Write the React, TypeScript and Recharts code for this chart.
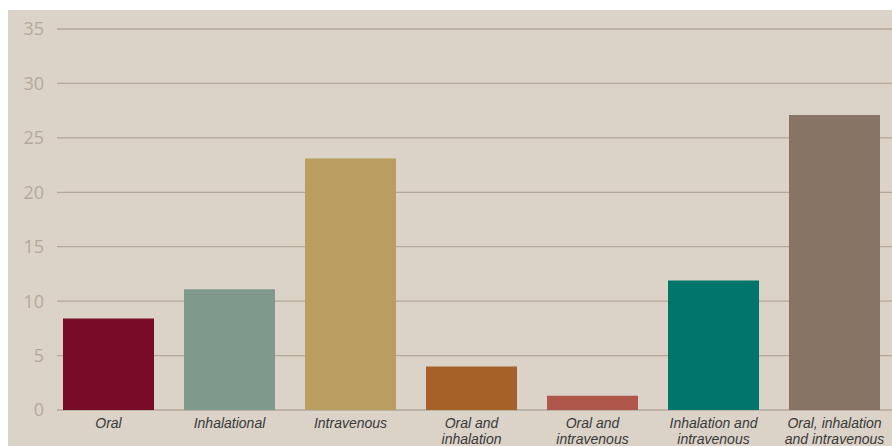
import React from 'react';
import { BarChart, Bar, XAxis, YAxis, CartesianGrid, Cell } from 'recharts';

const categories = [
  'Oral',
  'Inhalational',
  'Intravenous',
  'Oral and|inhalation',
  'Oral and|intravenous',
  'Inhalation and|intravenous',
  'Oral, inhalation|and intravenous',
];
const values = [8.4, 11.1, 23.1, 4.0, 1.3, 11.9, 27.1];
const colors = ['#780c28', '#7f998c', '#b99d61', '#a56127', '#b0574b', '#00756c', '#877465'];
const yTicks = [0, 5, 10, 15, 20, 25, 30, 35];

const data = categories.map((name, i) => ({ name, value: values[i] }));

function CategoryTick({ x, y, payload }: any) {
  const lines = String(payload.value).split('|');
  return (
    <g>
      {lines.map((l, i) => (
        <text
          key={i}
          x={x}
          y={y + 18 + i * 16}
          textAnchor="middle"
          fill="#3a3a3a"
          fontSize={14}
          fontStyle="italic"
          fontFamily="'Liberation Sans', Arial, sans-serif"
        >
          {l}
        </text>
      ))}
    </g>
  );
}

export default function App() {
  return (
    <div
      style={{
        position: 'absolute',
        left: 8,
        top: 10,
        width: 884,
        height: 436,
        overflow: 'hidden',
        background: '#dbd3c7',
      }}
    >
      <BarChart
        width={890}
        height={436}
        data={data}
        margin={{ top: 19, right: 3, bottom: 0, left: 0 }}
        barCategoryGap="12.4%"
      >
        <CartesianGrid vertical={false} stroke="#b3a899" strokeWidth={1.3} x={49} width={838} />
        <XAxis
          dataKey="name"
          height={36}
          axisLine={false}
          tickLine={false}
          tickSize={0}
          tickMargin={0}
          interval={0}
          tick={<CategoryTick />}
        />
        <YAxis
          width={40}
          domain={[0, 35]}
          ticks={yTicks}
          axisLine={false}
          tickLine={false}
          tickSize={0}
          tickMargin={4}
          tick={{ fill: '#b3aa9c', fontSize: 18, fontFamily: "'Open Sans', sans-serif" }}
        />
        <Bar dataKey="value" isAnimationActive={false}>
          {data.map((d, i) => (
            <Cell key={d.name} fill={colors[i]} />
          ))}
        </Bar>
      </BarChart>
    </div>
  );
}
